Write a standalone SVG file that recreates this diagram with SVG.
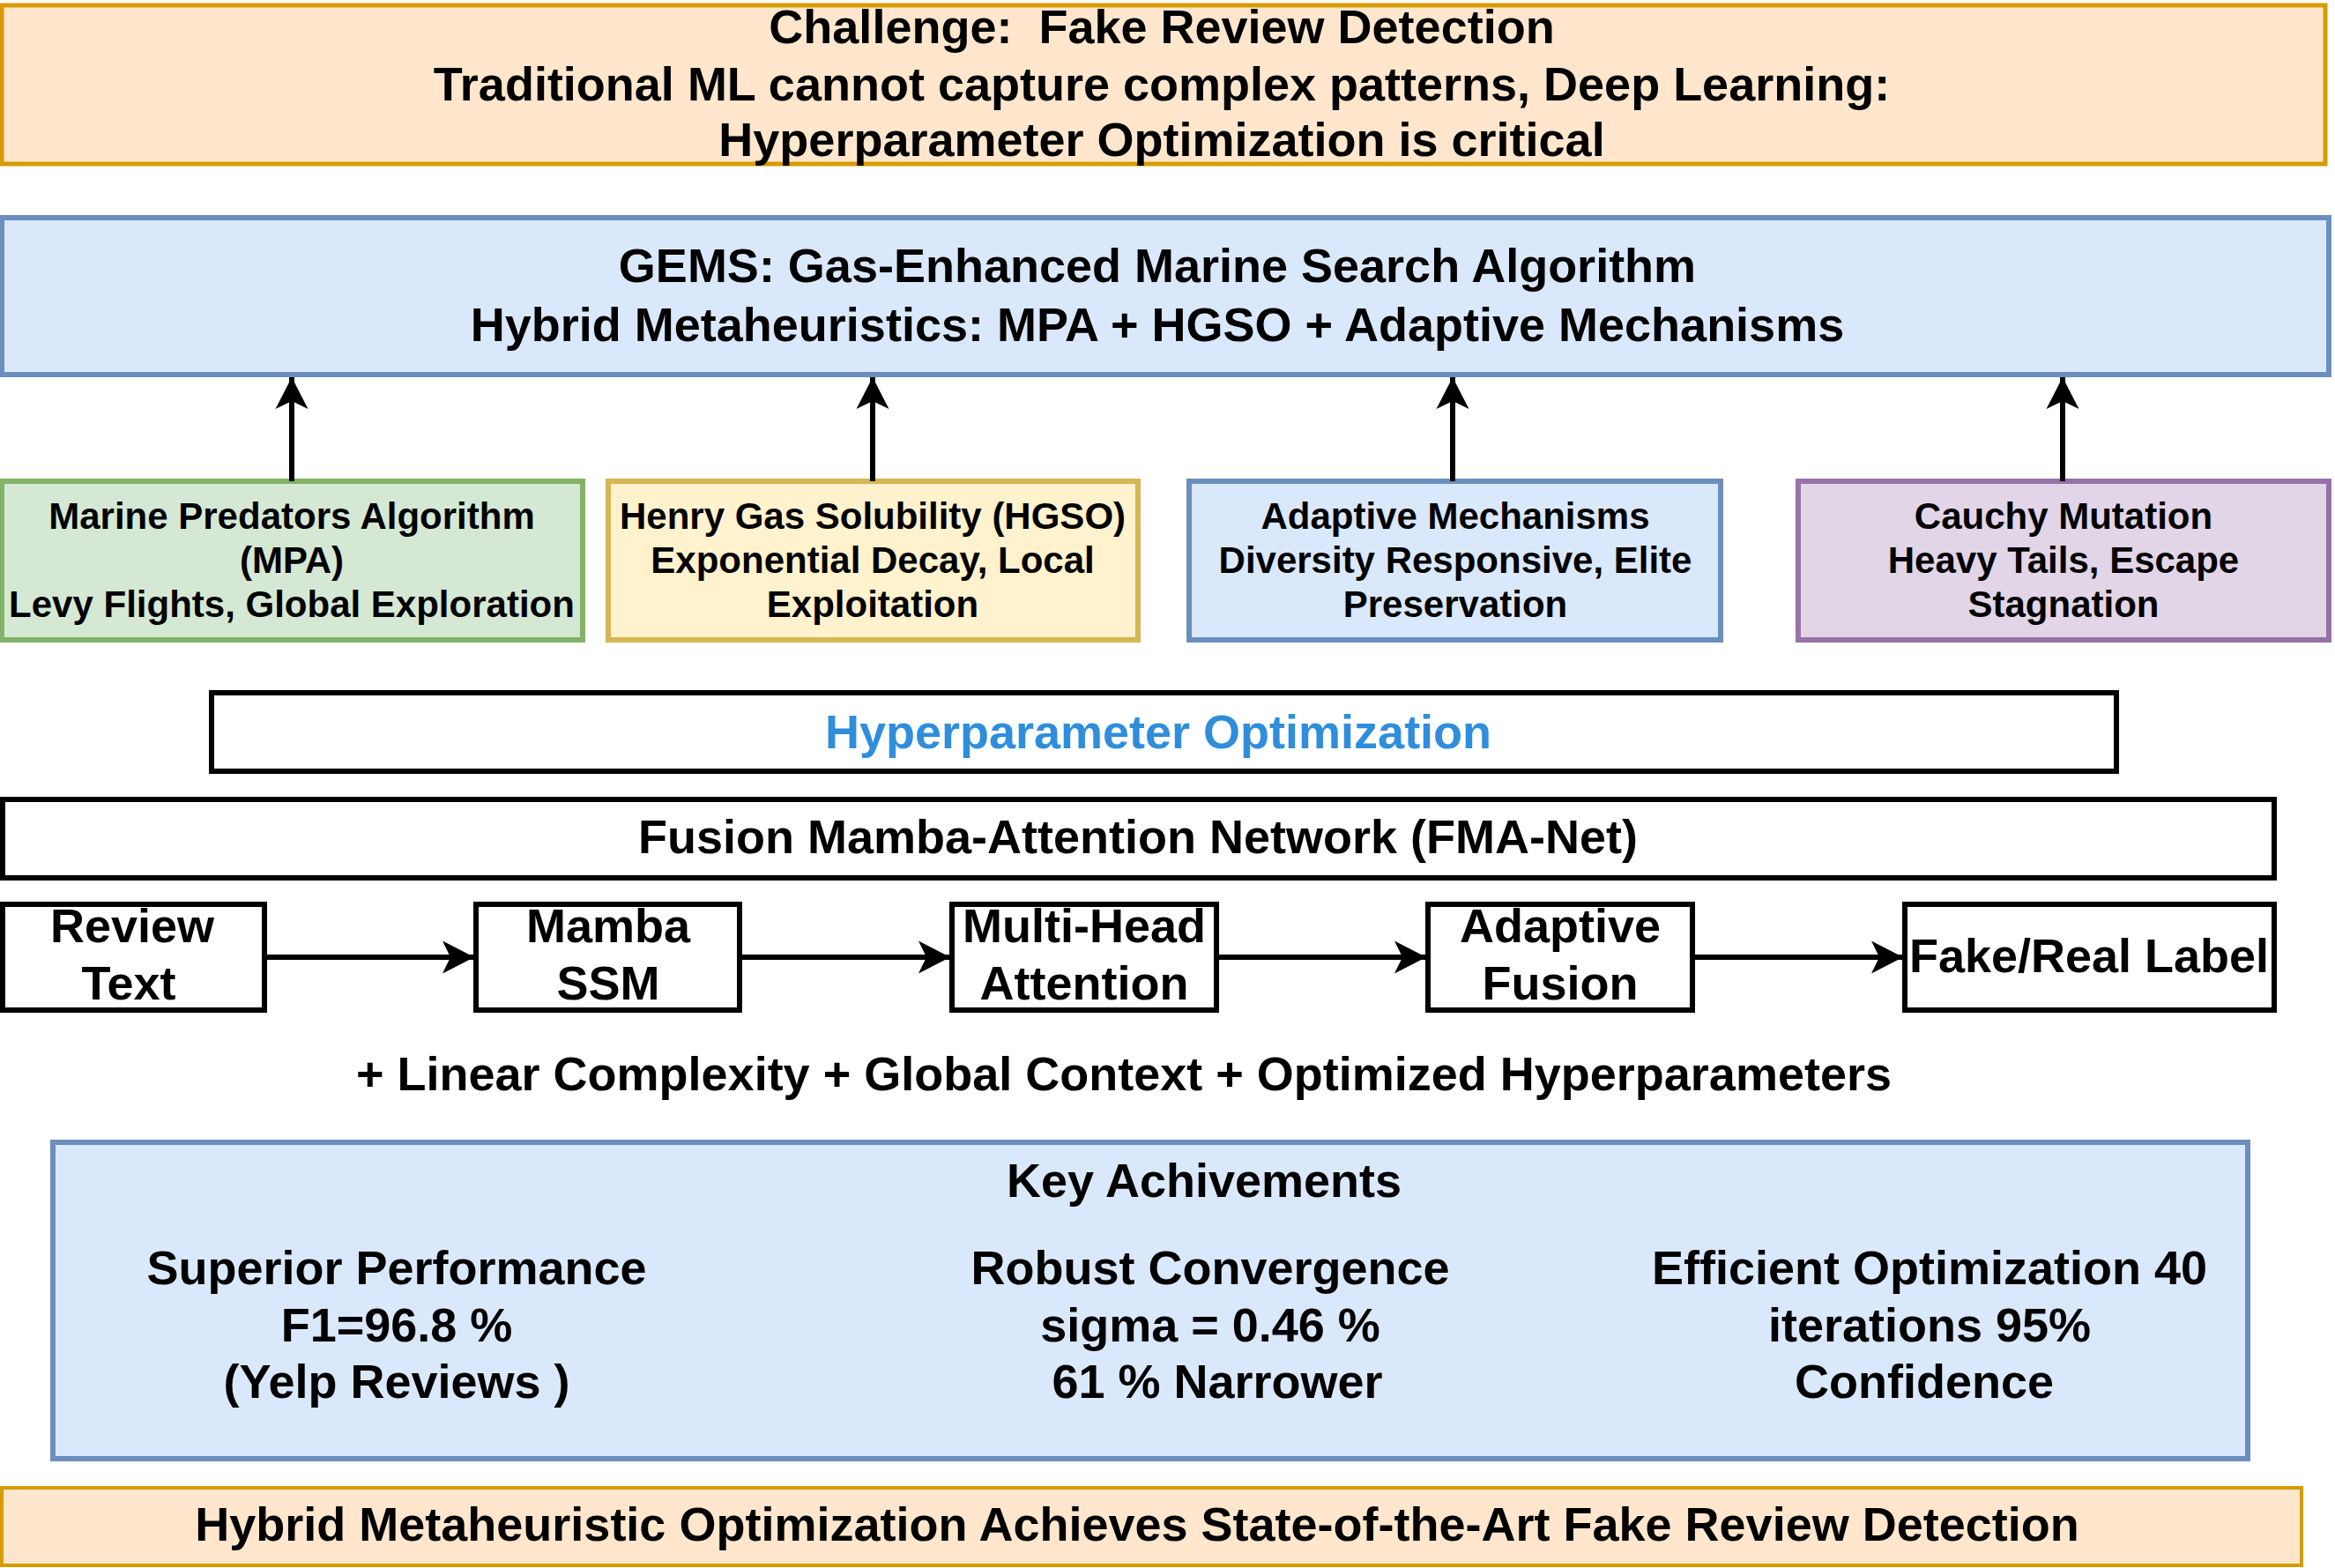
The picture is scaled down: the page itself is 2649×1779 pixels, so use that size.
<svg xmlns="http://www.w3.org/2000/svg" width="2649" height="1779" viewBox="0 0 2649 1779">
<style>
text{font-family:"Liberation Sans",Arial,Helvetica,sans-serif;font-weight:bold;fill:#000;text-anchor:middle}
.f54{font-size:54px}
.f42{font-size:42px}
.orange{fill:#ffe6cc;stroke:#d79b00}
.blue{fill:#dae8fc;stroke:#6c8ebf;stroke-width:6}
.green{fill:#d5e8d4;stroke:#82b366;stroke-width:6}
.yellow{fill:#fff2cc;stroke:#d6b656;stroke-width:6}
.purple{fill:#e1d5e7;stroke:#9673a6;stroke-width:6}
.plain{fill:#fff;stroke:#000;stroke-width:6}
.conn{stroke:#000;stroke-width:6;fill:none;marker-end:url(#arr)}
</style>
<defs>
<marker id="arr" markerUnits="userSpaceOnUse" markerWidth="40" markerHeight="40" viewBox="-38 -20 40 40" refX="0" refY="0" orient="auto">
<path d="M0,0 L-36,-18.5 L-27,0 L-36,18.5 Z" fill="#000"/>
</marker>
</defs>
<rect width="2649" height="1779" fill="#fff"/>
<g id="challenge">
<rect class="orange" x="2" y="6" width="2636" height="180" stroke-width="5"/>
<text class="f54" x="1318" y="49">Challenge:&#160; Fake Review Detection</text>
<text class="f54" x="1318" y="114">Traditional ML cannot capture complex patterns, Deep Learning:</text>
<text class="f54" x="1318" y="177">Hyperparameter Optimization is critical</text>
</g>
<g id="gems">
<rect class="blue" x="2" y="247" width="2640" height="178"/>
<text class="f54" x="1313" y="320">GEMS: Gas-Enhanced Marine Search Algorithm</text>
<text class="f54" x="1313" y="387">Hybrid Metaheuristics: MPA + HGSO + Adaptive Mechanisms</text>
</g>
<g id="mpa">
<rect class="green" x="2" y="546" width="659" height="180"/>
<text class="f42" x="331" y="600">Marine Predators Algorithm</text>
<text class="f42" x="331" y="650">(MPA)</text>
<text class="f42" x="331" y="700">Levy Flights, Global Exploration</text>
</g>
<g id="hgso">
<rect class="yellow" x="690" y="546" width="601" height="180"/>
<text class="f42" x="990" y="600">Henry Gas Solubility (HGSO)</text>
<text class="f42" x="990" y="650">Exponential Decay, Local</text>
<text class="f42" x="990" y="700">Exploitation</text>
</g>
<g id="adaptive">
<rect class="blue" x="1349" y="546" width="603" height="180"/>
<text class="f42" x="1651" y="600">Adaptive Mechanisms</text>
<text class="f42" x="1651" y="650">Diversity Responsive, Elite</text>
<text class="f42" x="1651" y="700">Preservation</text>
</g>
<g id="cauchy">
<rect class="purple" x="2040" y="546" width="602" height="180"/>
<text class="f42" x="2341" y="600">Cauchy Mutation</text>
<text class="f42" x="2341" y="650">Heavy Tails, Escape</text>
<text class="f42" x="2341" y="700">Stagnation</text>
</g>
<g id="hyperopt">
<rect class="plain" x="240" y="786" width="2161" height="89"/>
<text class="f54" x="1314" y="849" style="fill:#2f8edc">Hyperparameter Optimization</text>
</g>
<g id="fmanet">
<rect class="plain" x="3" y="907" width="2577" height="89"/>
<text class="f54" x="1291" y="968">Fusion Mamba-Attention Network (FMA-Net)</text>
</g>
<g id="review">
<rect class="plain" x="3" y="1026" width="297" height="120"/>
<text class="f54" x="150" y="1069">Review</text>
<text class="f54" x="146" y="1134">Text</text>
</g>
<g id="mamba">
<rect class="plain" x="540" y="1026" width="299" height="120"/>
<text class="f54" x="690" y="1069">Mamba</text>
<text class="f54" x="690" y="1134">SSM</text>
</g>
<g id="mha">
<rect class="plain" x="1080" y="1026" width="300" height="120"/>
<text class="f54" x="1230" y="1069">Multi-Head</text>
<text class="f54" x="1230" y="1134">Attention</text>
</g>
<g id="fusion">
<rect class="plain" x="1620" y="1026" width="300" height="120"/>
<text class="f54" x="1770" y="1069">Adaptive</text>
<text class="f54" x="1770" y="1134">Fusion</text>
</g>
<g id="label">
<rect class="plain" x="2161" y="1026" width="419" height="120"/>
<text class="f54" x="2370" y="1103">Fake/Real Label</text>
</g>
<g id="benefits">
<text class="f54" x="1275" y="1237">+ Linear Complexity + Global Context + Optimized Hyperparameters</text>
</g>
<g id="achievements">
<rect class="blue" x="60" y="1296" width="2490" height="359"/>
<text class="f54" x="1366" y="1358">Key Achivements</text>
<text class="f54" x="450" y="1457">Superior Performance</text>
<text class="f54" x="450" y="1522">F1=96.8 %</text>
<text class="f54" x="450" y="1586">(Yelp Reviews )</text>
<text class="f54" x="1373" y="1457">Robust Convergence</text>
<text class="f54" x="1373" y="1522">sigma = 0.46 %</text>
<text class="f54" x="1381" y="1586">61 % Narrower</text>
<text class="f54" x="2189" y="1457">Efficient Optimization 40</text>
<text class="f54" x="2189" y="1522">iterations 95%</text>
<text class="f54" x="2183" y="1586">Confidence</text>
</g>
<g id="conclusion">
<rect class="orange" x="2" y="1688" width="2609" height="88" stroke-width="4"/>
<text class="f54" x="1290" y="1748">Hybrid Metaheuristic Optimization Achieves State-of-the-Art Fake Review Detection</text>
</g>
<g id="connectors">
<line class="conn" x1="331" y1="546" x2="331" y2="428"/>
<line class="conn" x1="990" y1="546" x2="990" y2="428"/>
<line class="conn" x1="1648" y1="546" x2="1648" y2="428"/>
<line class="conn" x1="2340" y1="546" x2="2340" y2="428"/>
<line class="conn" x1="300" y1="1086" x2="538" y2="1086"/>
<line class="conn" x1="839" y1="1086" x2="1078" y2="1086"/>
<line class="conn" x1="1380" y1="1086" x2="1618" y2="1086"/>
<line class="conn" x1="1920" y1="1086" x2="2159" y2="1086"/>
</g>
</svg>
